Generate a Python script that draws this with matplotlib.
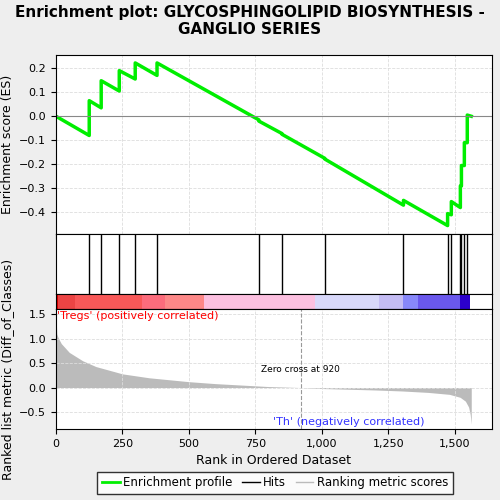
import numpy as np
import matplotlib
import matplotlib.pyplot as plt

matplotlib.use('Agg')

# data
n_genes = 1563
hit_ranks = [125, 170, 238, 298, 380, 763, 850, 1011, 1307, 1473, 1487, 1521, 1525, 1536, 1547]
es_before = [-0.08, 0.035, 0.105, 0.155, 0.17, -0.015, -0.072, -0.175, -0.37, -0.455, -0.41, -0.38, -0.29, -0.205, -0.11]
es_after = [0.065, 0.148, 0.19, 0.222, 0.222, -0.02, -0.075, -0.178, -0.35, -0.405, -0.355, -0.29, -0.205, -0.11, 0.005]
es_end = 0.0

metric_rank = [0, 3, 8, 20, 50, 100, 150, 250, 350, 500, 600, 700, 800, 920, 1000, 1100, 1200,
               1300, 1400, 1480, 1520, 1540, 1552, 1558, 1562]
metric_val = [1.5, 1.1, 1.02, 0.9, 0.72, 0.55, 0.43, 0.28, 0.2, 0.12, 0.08, 0.05, 0.02, 0.0, -0.02,
              -0.035, -0.05, -0.07, -0.1, -0.14, -0.2, -0.28, -0.4, -0.55, -0.75]

band_edges = [0, 8, 70, 324, 411, 557, 976, 1216, 1307, 1362, 1518, 1558]
band_colors = ['#d80000', '#ec4444', '#f85858', '#fc6c7c', '#fd8888', '#fcc0e0',
               '#d8d8fa', '#c4bcf4', '#8888fa', '#6a58ec', '#2c00cc']

fig = plt.figure(figsize=(5, 5), dpi=100, facecolor='#eeeeee')
fig.suptitle('Enrichment plot: GLYCOSPHINGOLIPID BIOSYNTHESIS -\nGANGLIO SERIES',
             fontsize=11, fontweight='bold', y=0.99)

L, W = 0.112, 0.872
ax1 = fig.add_axes([L, 0.532, W, 0.358])
ax2 = fig.add_axes([L, 0.412, W, 0.12])
ax3 = fig.add_axes([L, 0.382, W, 0.03])
ax4 = fig.add_axes([L, 0.142, W, 0.24])

xmax = 1640
# ES profile: vertical jump at each hit, straight descent between hits
xs, ys = [0], [0.0]
for r, b, a in zip(hit_ranks, es_before, es_after):
    xs += [r, r]
    ys += [b, a]
xs.append(n_genes - 1)
ys.append(es_end)
ax1.plot(xs, ys, color='#00ee00', lw=2.5)
ax1.axhline(0, color='#888888', lw=0.8)
ax1.set_xlim(0, xmax)
ax1.set_ylim(-0.49, 0.255)
ax1.set_yticks([-0.4, -0.3, -0.2, -0.1, 0.0, 0.1, 0.2])
ax1.set_xticks([0, 250, 500, 750, 1000, 1250, 1500])
ax1.tick_params(labelbottom=False, labelsize=8)
ax1.set_ylabel('Enrichment score (ES)', fontsize=9)
ax1.grid(color='#dddddd', ls='--', lw=0.6)

ax2.vlines(hit_ranks, 0, 1, color='black', lw=1)
ax2.set_xlim(0, xmax)
ax2.set_ylim(0, 1)
ax2.set_xticks([])
ax2.set_yticks([])

for i, c in enumerate(band_colors):
    ax3.axvspan(band_edges[i], band_edges[i + 1], color=c, lw=0)
ax3.set_xlim(0, xmax)
ax3.set_xticks([])
ax3.set_yticks([])

ax4.fill_between(metric_rank, metric_val, 0, color='#bbbbbb', lw=0)
ax4.axvline(920, color='#999999', ls='--', lw=0.8)
ax4.set_xlim(0, xmax)
ax4.set_ylim(-0.85, 1.61)
ax4.set_yticks([-0.5, 0.0, 0.5, 1.0, 1.5])
ax4.set_xticks([0, 250, 500, 750, 1000, 1250, 1500])
ax4.set_xticklabels(['0', '250', '500', '750', '1,000', '1,250', '1,500'])
ax4.tick_params(labelsize=8)
ax4.grid(color='#dddddd', ls='--', lw=0.6)
ax4.text(5, 1.47, "'Tregs' (positively correlated)", color='red', fontsize=8, va='center')
ax4.text(1100, -0.7, "'Th' (negatively correlated)", color='#3333ff', fontsize=8, ha='center', va='center')
ax4.text(920, 0.36, 'Zero cross at 920', fontsize=6.5, ha='center', va='center')
ax4.set_xlabel('Rank in Ordered Dataset', fontsize=9)
ax4.set_ylabel('Ranked list metric (Diff_of_Classes)', fontsize=9)

h1, = ax1.plot([], [], color='#00ee00', lw=2, label='Enrichment profile')
h2, = ax1.plot([], [], color='black', lw=1, label='Hits')
h3, = ax1.plot([], [], color='#bbbbbb', lw=1, label='Ranking metric scores')
fig.legend(handles=[h1, h2, h3], loc='lower center', ncol=3, fontsize=8.5,
           bbox_to_anchor=(0.55, 0.0), frameon=True, fancybox=False, edgecolor='black',
           handlelength=1.5, columnspacing=0.8, handletextpad=0.3)

fig.savefig('out.png', facecolor=fig.get_facecolor())
